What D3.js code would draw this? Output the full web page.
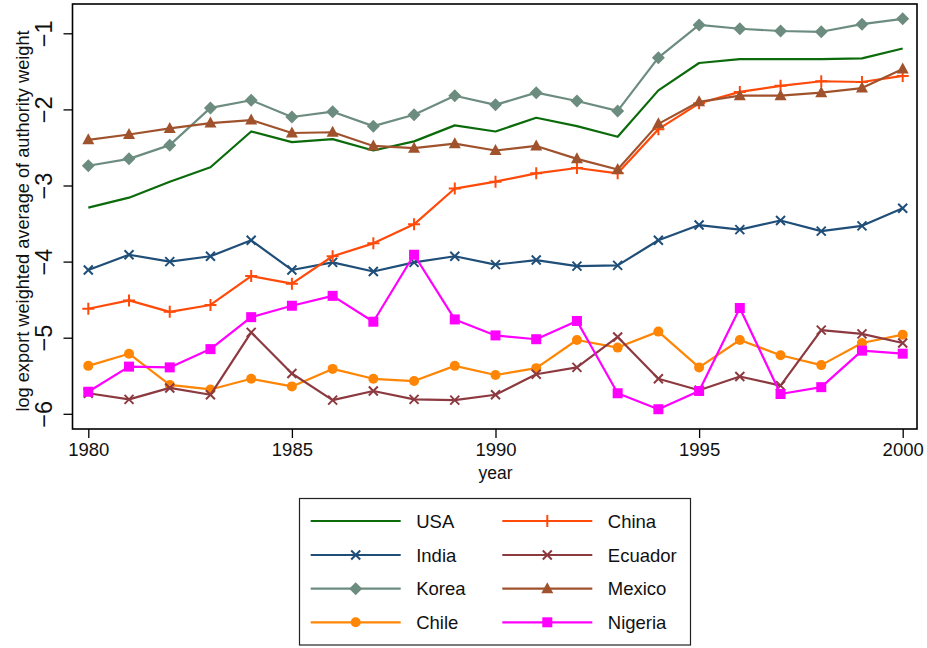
<!DOCTYPE html>
<html>
<head>
<meta charset="utf-8">
<script src="https://cdn.jsdelivr.net/npm/d3@7/dist/d3.min.js"></script>
<style>
  html, body { margin: 0; padding: 0; background: #fff; }
  svg { display: block; font-family: "Liberation Sans", Arial, sans-serif; }
</style>
</head>
<body>
<svg id="chart" width="927" height="648"></svg>
<script>
const years = d3.range(1980, 2001);

const usa     = [-3.29,-3.16,-2.95,-2.76,-2.29,-2.43,-2.39,-2.54,-2.42,-2.21,-2.29,-2.11,-2.22,-2.36,-1.75,-1.39,-1.34,-1.34,-1.34,-1.33,-1.20];
const china   = [-4.62,-4.51,-4.66,-4.57,-4.19,-4.29,-3.93,-3.76,-3.51,-3.04,-2.95,-2.84,-2.77,-2.84,-2.26,-1.92,-1.77,-1.69,-1.63,-1.64,-1.56];
const india   = [-4.11,-3.91,-4.00,-3.93,-3.72,-4.11,-4.01,-4.13,-4.01,-3.93,-4.04,-3.98,-4.06,-4.05,-3.72,-3.52,-3.58,-3.46,-3.60,-3.53,-3.30];
const ecuador = [-5.73,-5.81,-5.66,-5.75,-4.93,-5.47,-5.82,-5.70,-5.81,-5.82,-5.75,-5.48,-5.39,-4.99,-5.54,-5.69,-5.51,-5.63,-4.90,-4.95,-5.07];
const korea   = [-2.74,-2.65,-2.47,-1.98,-1.88,-2.10,-2.03,-2.22,-2.07,-1.82,-1.94,-1.78,-1.89,-2.02,-1.32,-0.89,-0.94,-0.97,-0.98,-0.88,-0.81];
const mexico  = [-2.40,-2.33,-2.25,-2.18,-2.14,-2.31,-2.30,-2.48,-2.51,-2.45,-2.54,-2.48,-2.65,-2.79,-2.19,-1.90,-1.82,-1.82,-1.78,-1.72,-1.47];
const chile   = [-5.37,-5.21,-5.62,-5.68,-5.54,-5.64,-5.41,-5.54,-5.57,-5.37,-5.49,-5.40,-5.03,-5.13,-4.92,-5.39,-5.03,-5.23,-5.36,-5.07,-4.96];
const nigeria = [-5.71,-5.38,-5.39,-5.15,-4.73,-4.58,-4.45,-4.79,-3.91,-4.76,-4.97,-5.02,-4.78,-5.73,-5.94,-5.70,-4.61,-5.74,-5.65,-5.17,-5.21];

const xTicks = [1980, 1985, 1990, 1995, 2000];
const yTicks = [-6, -5, -4, -3, -2, -1];

// legend order: two columns, filled row by row
const series = [
  { name: "USA",     values: usa,     color: "#0b6b0b", marker: "none" },
  { name: "China",   values: china,   color: "#ff4a0a", marker: "plus" },
  { name: "India",   values: india,   color: "#1f4e79", marker: "x" },
  { name: "Ecuador", values: ecuador, color: "#8c3a40", marker: "x" },
  { name: "Korea",   values: korea,   color: "#6d8c80", marker: "diamond" },
  { name: "Mexico",  values: mexico,  color: "#a0522d", marker: "triangle" },
  { name: "Chile",   values: chile,   color: "#ff8505", marker: "circle" },
  { name: "Nigeria", values: nigeria, color: "#ff00ff", marker: "square" }
];

const svg = d3.select("#chart");
const plot = { left: 72.5, right: 917, top: 4, bottom: 429 };

const x = d3.scaleLinear().domain([1980, 2000]).range([88.3, 902.7]);
const y = d3.scaleLinear().domain([-6, -1]).range([413.8, 33.3]);

// plot region frame
svg.append("rect")
  .attr("x", plot.left).attr("y", plot.top)
  .attr("width", plot.right - plot.left).attr("height", plot.bottom - plot.top)
  .attr("fill", "none").attr("stroke", "#000").attr("stroke-width", 1.6);

// axes
const fmt = d => (d < 0 ? "\u2212" + Math.abs(d) : String(d));

const xAxis = svg.append("g")
  .attr("transform", `translate(0,${plot.bottom})`)
  .call(d3.axisBottom(x).tickValues(xTicks).tickSize(9).tickPadding(5).tickFormat(d3.format("d")));
xAxis.select(".domain").remove();
xAxis.selectAll("line").attr("stroke", "#000").attr("stroke-width", 1.3);
xAxis.selectAll("text").attr("font-size", 18.5).attr("fill", "#111");

const yAxis = svg.append("g")
  .attr("transform", `translate(${plot.left},0)`)
  .call(d3.axisLeft(y).tickValues(yTicks).tickSize(9).tickPadding(0).tickFormat(fmt));
yAxis.select(".domain").remove();
yAxis.selectAll("line").attr("stroke", "#000").attr("stroke-width", 1.3);
yAxis.selectAll("text")
  .attr("font-size", 23.5).attr("fill", "#111")
  .attr("text-anchor", "middle").attr("dy", null)
  .attr("transform", "translate(-20.5,0) rotate(-90)")
  .attr("x", 0).attr("y", 0);

// axis titles
svg.append("text")
  .attr("x", x(1990)).attr("y", 479)
  .attr("text-anchor", "middle").attr("font-size", 17.5).attr("fill", "#111")
  .text("year");

svg.append("text")
  .attr("transform", "translate(28.5,221) rotate(-90)")
  .attr("text-anchor", "middle").attr("font-size", 18.2).attr("fill", "#111")
  .text("log export weighted average of authority weight");

// marker drawing
function drawMarker(g, type, color) {
  switch (type) {
    case "plus":
      g.append("path").attr("d", "M-6,0H6M0,-6V6")
        .attr("stroke", color).attr("stroke-width", 2).attr("fill", "none");
      break;
    case "x":
      g.append("path").attr("d", "M-4.5,-4.5L4.5,4.5M-4.5,4.5L4.5,-4.5")
        .attr("stroke", color).attr("stroke-width", 2).attr("fill", "none");
      break;
    case "diamond":
      g.append("path").attr("d", "M0,-6.5L6.5,0L0,6.5L-6.5,0Z").attr("fill", color);
      break;
    case "triangle":
      g.append("path").attr("d", "M0,-6.5L6,4.5L-6,4.5Z").attr("fill", color);
      break;
    case "circle":
      g.append("circle").attr("r", 5).attr("fill", color);
      break;
    case "square":
      g.append("rect").attr("x", -5).attr("y", -5).attr("width", 10).attr("height", 10).attr("fill", color);
      break;
  }
}

const line = d3.line().x((d, i) => x(years[i])).y(d => y(d));

// draw in an order so that lines stack like the original
const drawOrder = ["USA", "India", "Korea", "Chile", "China", "Ecuador", "Mexico", "Nigeria"];
drawOrder.forEach(name => {
  const s = series.find(t => t.name === name);
  const g = svg.append("g").attr("class", "series");
  g.append("path")
    .attr("d", line(s.values))
    .attr("fill", "none").attr("stroke", s.color).attr("stroke-width", 2.2)
    .attr("stroke-linejoin", "round");
  if (s.marker !== "none") {
    s.values.forEach((v, i) => {
      const m = g.append("g").attr("transform", `translate(${x(years[i])},${y(v)})`);
      drawMarker(m, s.marker, s.color);
    });
  }
});

// legend
const legend = svg.append("g");
legend.append("rect")
  .attr("x", 299.5).attr("y", 498.5).attr("width", 391).attr("height", 146.5)
  .attr("fill", "#fff").attr("stroke", "#222").attr("stroke-width", 1.2);

const rowY = [521, 555, 588.7, 622.3];
const colX = [310.7, 502.3];
series.forEach((s, i) => {
  const col = i % 2, row = Math.floor(i / 2);
  const x0 = colX[col], yy = rowY[row];
  const item = legend.append("g");
  item.append("line")
    .attr("x1", x0).attr("x2", x0 + 90).attr("y1", yy).attr("y2", yy)
    .attr("stroke", s.color).attr("stroke-width", 2.2);
  if (s.marker !== "none") {
    drawMarker(item.append("g").attr("transform", `translate(${x0 + 45},${yy})`), s.marker, s.color);
  }
  item.append("text")
    .attr("x", x0 + 105.5).attr("y", yy + 6.5)
    .attr("font-size", 18.5).attr("fill", "#111")
    .text(s.name);
});
</script>
</body>
</html>
